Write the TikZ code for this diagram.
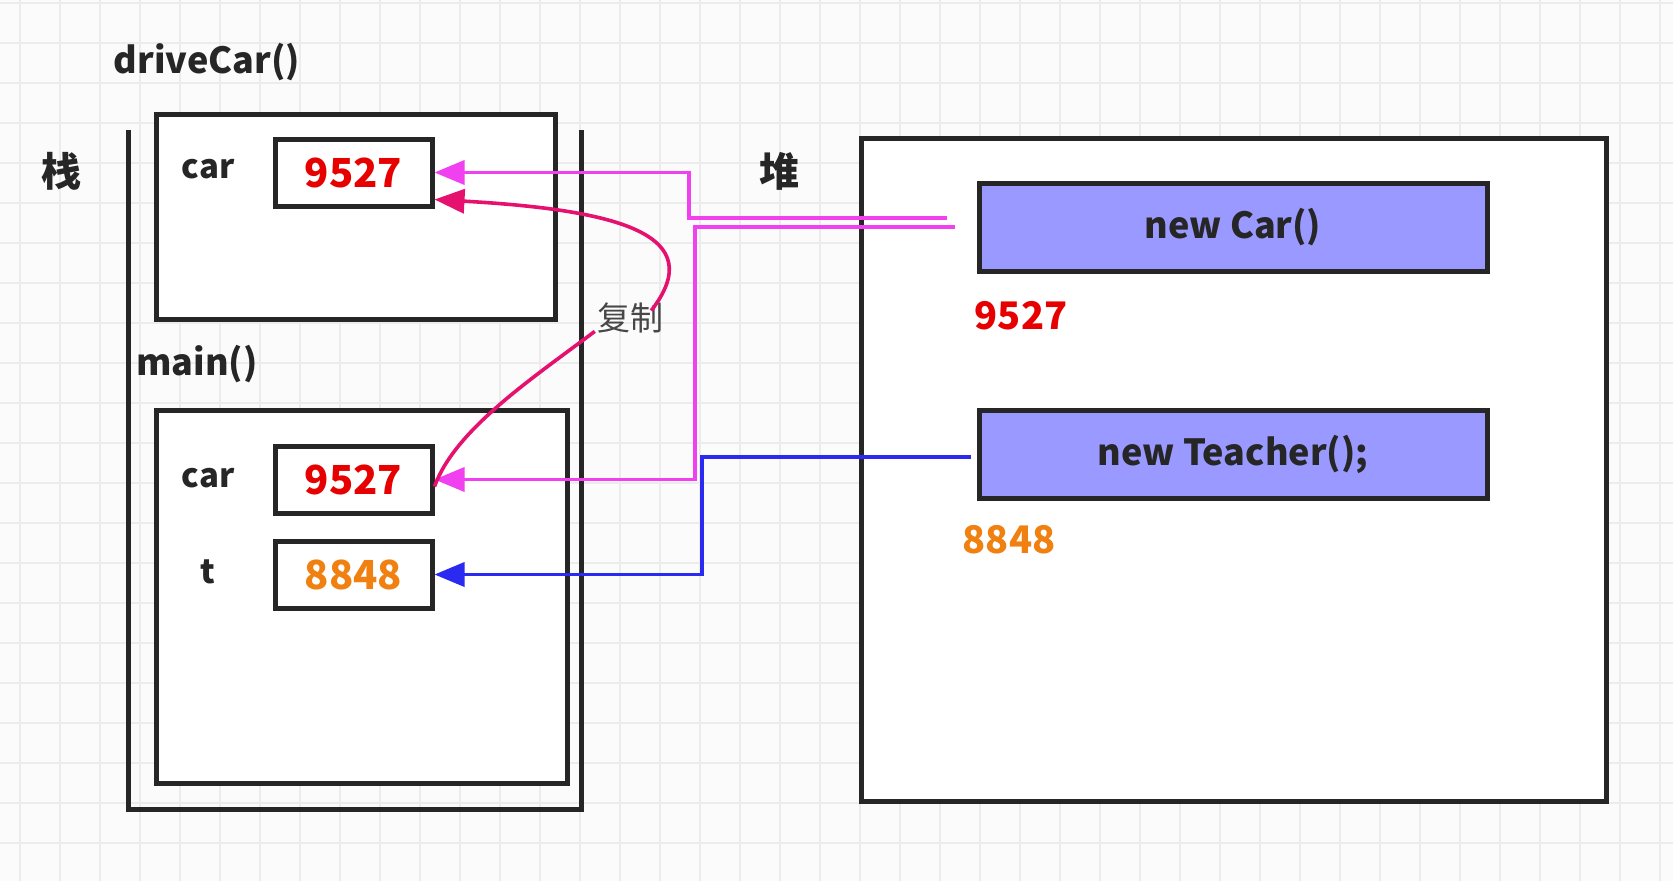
\documentclass[tikz,border=0pt]{standalone}
\usepackage{fontspec}
\setmainfont{Noto Sans CJK SC}
\usetikzlibrary{arrows.meta}
\definecolor{ink}{HTML}{262626}
\definecolor{bgc}{HTML}{FBFBFB}
\definecolor{gridc}{HTML}{ECECEC}
\definecolor{heapfill}{HTML}{9999FF}
\definecolor{numred}{HTML}{E60000}
\definecolor{numorange}{HTML}{F08010}
\definecolor{magc}{HTML}{F040F0}
\definecolor{crimc}{HTML}{E6106E}
\definecolor{bluec}{HTML}{2A2AF0}
\tikzset{
  frame/.style={draw=ink, line width=5pt, fill=white, inner sep=0pt},
  valbox/.style={frame, minimum width=157pt, minimum height=67pt, font=\fontsize{40}{46}\selectfont\bfseries},
  heapbox/.style={draw=ink, line width=5pt, fill=heapfill, inner sep=0pt, minimum width=508pt, minimum height=88pt, text=ink, font=\fontsize{36}{42}\selectfont\bfseries},
  lbl/.style={text=ink, inner sep=0pt, font=\fontsize{33}{38}\selectfont\bfseries},
  ttl/.style={text=ink, inner sep=0pt, font=\fontsize{36}{42}\selectfont\bfseries},
  big/.style={text=ink, inner sep=0pt, font=\fontsize{40}{46}\selectfont\bfseries},
  addr/.style={inner sep=0pt, font=\fontsize{38}{44}\selectfont\bfseries},
  magline/.style={draw=magc, line width=3.6pt},
  arr/.style={-{Triangle[length=30pt,width=24pt]}},
}
\begin{document}
\begin{tikzpicture}[x=1pt,y=-1pt]
\fill[bgc] (0,0) rectangle (1673,881);
\useasboundingbox (0,0) rectangle (1673,881);
\foreach \x in {20,60,...,1660} \draw[gridc, line width=1.5pt] (\x,0) -- (\x,881);
\foreach \y in {3,43,...,880} \draw[gridc, line width=1.5pt] (0,\y) -- (1673,\y);

% stack
\draw[ink, line width=5pt] (128,130) -- (128,809) -- (581,809) -- (581,130);
\node[big] (stacklbl) at (61,171) {栈};
\node[ttl] (dctitle) at (207,62) {driveCar()};
\node[frame, minimum width=399pt, minimum height=205pt] (dcframe) at (355.5,216.5) {};
\node[lbl] (dccarlbl) at (208,169) {car};
\node[valbox, text=numred] (dccar) at (353.5,172.5) {9527};
\node[ttl] (maintitle) at (197,364) {main()};
\node[frame, minimum width=411pt, minimum height=373pt] (mainframe) at (361.5,596.5) {};
\node[lbl] (mcarlbl) at (208,478) {car};
\node[valbox, text=numred] (mcar) at (353.5,479.5) {9527};
\node[lbl] (tlbl) at (208,572) {t};
\node[valbox, text=numorange] (tbox) at (353.5,574.5) {8848};

% heap
\node[big] (heaplbl) at (779,171) {堆};
\node[frame, minimum width=745pt, minimum height=663pt] (heap) at (1233.5,469.5) {};
\node[heapbox] (newcar) at (1233,227) {new Car()};
\node[addr, text=numred] (caraddr) at (1021,316) {9527};
\node[heapbox] (newteacher) at (1233,454) {new Teacher();};
\node[addr, text=numorange] (teacheraddr) at (1009,540) {8848};

% connectors
\coordinate (m1s) at (947,218);
\coordinate (m2s) at (955,227);
\draw[magline, arr] (m1s) -- (689,218) |- (dccar.east);
\draw[magline, arr] (m2s) -- (695,227) |- (mcar.east);
\draw[draw=bluec, line width=3.6pt, arr] ([xshift=-6pt,yshift=-3pt]newteacher.west) -- (702,457) |- (tbox.east);

\node[text=ink!85, inner sep=0pt, font=\fontsize{33}{38}\selectfont] (copylbl) at (630,318) {复制};
\draw[draw=crimc, line width=3.6pt] ([yshift=-7pt]mcar.east) .. controls (455,430) and (530,380) .. ([xshift=-2pt,yshift=2pt]copylbl.south west);
\draw[draw=crimc, line width=3.6pt, arr] ([xshift=-12pt,yshift=-8pt]copylbl.north east) .. controls (710,235) and (620,210) .. ([yshift=-27pt]dccar.east);
\end{tikzpicture}
\end{document}
